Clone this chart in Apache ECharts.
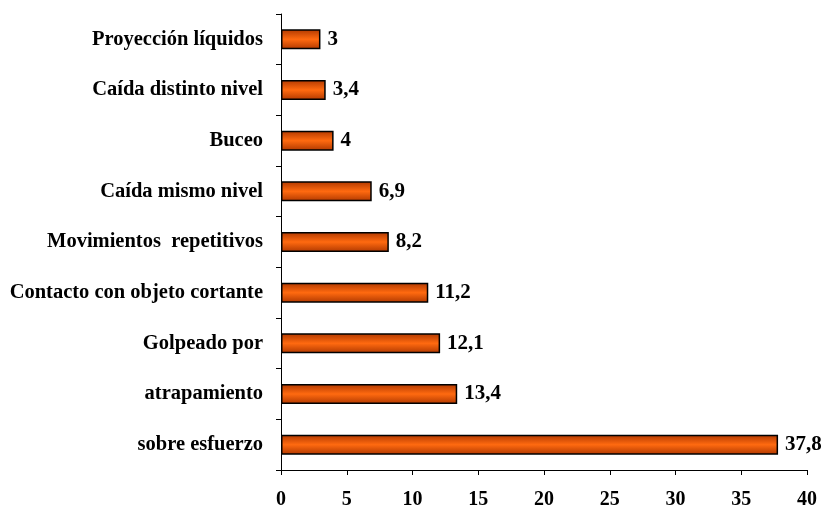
<!DOCTYPE html>
<html><head><meta charset="utf-8">
<script src="https://cdn.jsdelivr.net/npm/echarts@6/dist/echarts.min.js"></script>
<style>html,body{margin:0;padding:0;background:#fff}#c{width:827px;height:511px}</style>
</head><body><div id="c"></div>
<script>
const categories = ["sobre esfuerzo","atrapamiento","Golpeado por","Contacto con objeto cortante","Movimientos  repetitivos","Caída mismo nivel","Buceo","Caída distinto nivel","Proyección líquidos"];
const values = [37.8,13.4,12.1,11.2,8.2,6.9,4,3.4,3];
const xTicks = [0,5,10,15,20,25,30,35,40];
const font = '"Liberation Serif","Times New Roman",serif';
const chart = echarts.init(document.getElementById('c'));
chart.setOption({
  animation:false,
  grid:{left:281,right:20,top:14,bottom:41,containLabel:false},
  xAxis:{type:'value',min:0,max:40,interval:5,
    axisLine:{show:true,lineStyle:{color:'#000',width:1}},
    axisTick:{show:true,length:5,lineStyle:{color:'#000'}},
    splitLine:{show:false},
    axisLabel:{margin:20,color:'#000',fontFamily:font,fontWeight:'bold',fontSize:20,
      formatter:v=>xTicks.includes(v)?String(v):''}},
  yAxis:{type:'category',data:categories,
    axisLine:{show:true,lineStyle:{color:'#000',width:1}},
    axisTick:{show:true,length:5,lineStyle:{color:'#000'}},
    axisLabel:{margin:18,color:'#000',fontFamily:font,fontWeight:'bold',fontSize:20.5}},
  series:[{type:'bar',data:values,barWidth:20,
    itemStyle:{borderColor:'#000',borderWidth:1.5,
      color:new echarts.graphic.LinearGradient(0,0,0,1,[
        {offset:0,color:'#B03800'},{offset:0.5,color:'#FF6A10'},{offset:1,color:'#B03800'}])},
    label:{show:true,position:'right',distance:7,color:'#000',fontFamily:font,fontWeight:'bold',fontSize:21,
      formatter:p=>String(p.value).replace('.',',')}}]
});
</script></body></html>
